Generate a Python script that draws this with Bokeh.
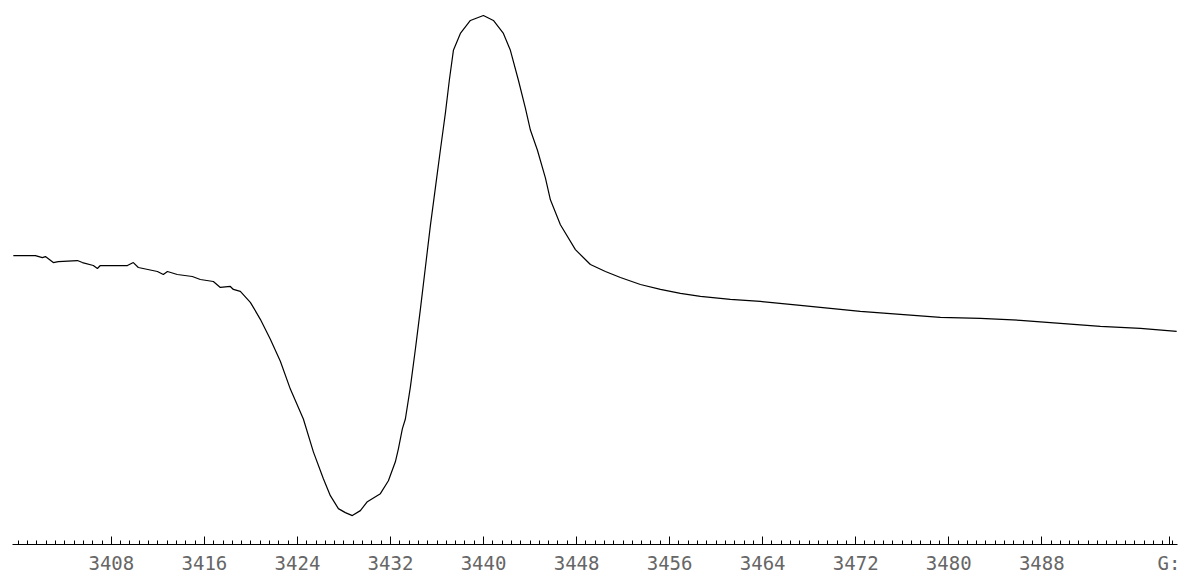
from bokeh.plotting import figure
from bokeh.models import Range1d, FixedTicker
from bokeh.embed import file_html
from bokeh.resources import INLINE

# Magnetic field (G) and signal intensity (arbitrary units)
field = [3399.57, 3401.47, 3402.07, 3402.33, 3403.01, 3403.44, 3405.08, 3405.51, 3406.45, 3406.80,
         3407.05, 3409.38, 3409.89, 3410.32, 3411.96, 3412.47, 3412.82, 3413.67, 3414.96, 3415.65,
         3416.77, 3417.37, 3418.23, 3418.49, 3419.09, 3419.95, 3420.21, 3420.81, 3421.67, 3422.53,
         3423.39, 3424.51, 3425.37, 3426.23, 3426.83, 3427.52, 3428.12, 3428.72, 3429.41, 3430.01,
         3431.13, 3431.82, 3432.42, 3432.68, 3433.02, 3433.28, 3433.71, 3434.14, 3434.57, 3435.00,
         3435.43, 3435.86, 3436.29, 3436.72, 3437.06, 3437.41, 3438.01, 3438.87, 3439.99, 3440.85,
         3441.71, 3442.31, 3443.00, 3443.60, 3444.03, 3444.63, 3445.32, 3445.75, 3446.61, 3447.90,
         3449.19, 3450.48, 3451.77, 3453.49, 3455.21, 3456.93, 3458.65, 3461.22, 3463.80, 3467.24,
         3469.82, 3472.40, 3475.84, 3479.28, 3482.72, 3486.16, 3489.60, 3493.04, 3496.48, 3499.60]
signal = [290, 290, 288, 289, 283, 284, 285, 283, 280, 277,
          280, 280, 283, 278, 274, 271, 274, 271, 269, 266,
          264, 258, 259, 256, 254, 243, 238, 226, 206, 184,
          156, 126, 93, 66, 49, 36, 32, 29, 34, 43,
          51, 64, 83, 96, 116, 126, 158, 196, 236, 278,
          320, 358, 396, 433, 466, 496, 513, 526, 531, 526,
          513, 496, 466, 438, 416, 396, 368, 346, 321, 296,
          281, 274, 268, 261, 256, 252, 249, 246, 244, 240,
          237, 234, 231, 228, 227, 225, 222, 219, 217, 214]

tick_values = [3408, 3416, 3424, 3432, 3440, 3448, 3456, 3464, 3472, 3480, 3488, 3499.0]
unit_label = "G:"
minor_values = [3400.0 + 0.8 * i for i in range(125)]

p = figure(width=1180, height=576, output_backend="svg", toolbar_location=None,
           x_range=Range1d(3399.5, 3499.67), y_range=Range1d(0, 538),
           y_axis_location=None, min_border_left=12, min_border_right=3,
           min_border_top=8, min_border_bottom=30)
p.outline_line_color = None
p.grid.visible = False
p.background_fill_color = "white"

p.line(field, signal, line_color="black", line_width=1.2)

ax = p.xaxis[0]
ax.ticker = FixedTicker(ticks=tick_values, minor_ticks=minor_values)
ax.major_label_overrides = {3499.0: unit_label}
ax.axis_line_color = "black"
ax.axis_line_width = 1
ax.major_tick_in = 8
ax.major_tick_out = 0
ax.minor_tick_in = 4
ax.minor_tick_out = 0
ax.major_tick_line_color = "black"
ax.minor_tick_line_color = "black"
ax.major_label_text_font = "DejaVu Sans Mono"
ax.major_label_text_font_size = "19px"
ax.major_label_text_color = "#666666"
ax.major_label_standoff = 7

open("out.html", "w").write(file_html(p, INLINE))
